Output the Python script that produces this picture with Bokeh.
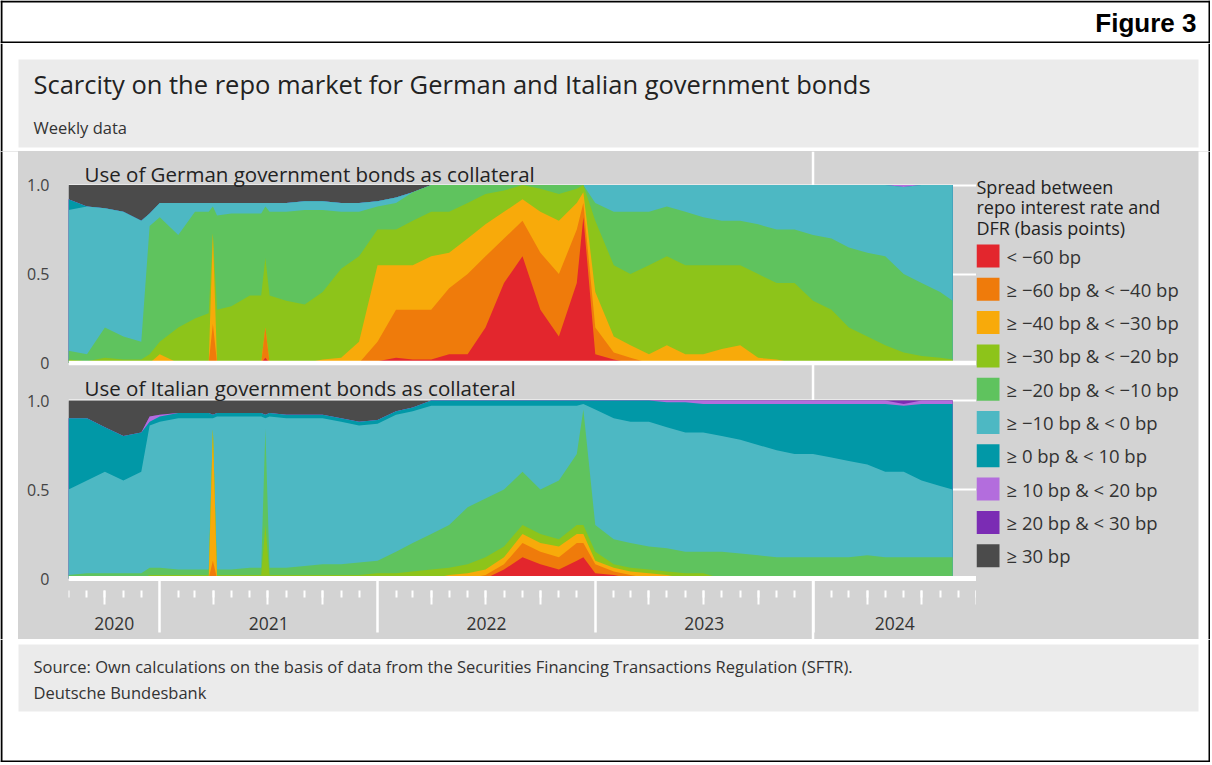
import numpy as np
import pandas as pd
from bokeh.plotting import figure
from bokeh.layouts import column, row
from bokeh.models import Range1d, LinearAxis, FixedTicker, Grid, Span, Label
from bokeh.core.properties import value
from bokeh.embed import file_html
from bokeh.resources import INLINE

# ---------------- data ----------------
dates = ["2020-08-01", "2020-09-01", "2020-10-01", "2020-11-01", "2020-12-01", "2020-12-15",
         "2021-01-01", "2021-02-01", "2021-03-01", "2021-03-24", "2021-03-31", "2021-04-07",
         "2021-05-01", "2021-06-01", "2021-06-20", "2021-06-27", "2021-07-04", "2021-08-01",
         "2021-09-01", "2021-10-01", "2021-11-01", "2021-12-01",
         "2022-01-01", "2022-02-01", "2022-03-01", "2022-04-01", "2022-05-01", "2022-06-01",
         "2022-07-01", "2022-08-01", "2022-09-01", "2022-10-01", "2022-11-01", "2022-12-01", "2022-12-12",
         "2023-01-01", "2023-02-01", "2023-03-01", "2023-04-01", "2023-05-01", "2023-06-01",
         "2023-07-01", "2023-08-01", "2023-09-01", "2023-10-01", "2023-11-01", "2023-12-01",
         "2024-01-01", "2024-02-01", "2024-03-01", "2024-04-01", "2024-05-01", "2024-06-01",
         "2024-07-01", "2024-08-01", "2024-08-22"]

categories = ["< \u221260 bp", "\u2265 \u221260 bp & < \u221240 bp", "\u2265 \u221240 bp & < \u221230 bp",
              "\u2265 \u221230 bp & < \u221220 bp", "\u2265 \u221220 bp & < \u221210 bp",
              "\u2265 \u221210 bp & < 0 bp", "\u2265 0 bp & < 10 bp", "\u2265 10 bp & < 20 bp",
              "\u2265 20 bp & < 30 bp", "\u2265 30 bp"]
colors = ["#e3262d", "#ef7b0b", "#f8aa0a", "#8dc41a", "#5fc35e", "#4db8c3", "#0198a7",
          "#b36ddd", "#7b2cb4", "#4b4b4b"]

# German government bonds (shares per category, per date)
de_red = [0, 0, 0, 0, 0, 0,
          0, 0, 0, 0, 0, 0, 0, 0, 0, .03, 0, 0, 0, 0, 0, 0,
          .01, .03, .02, .02, .05, .05, .20, .45, .60, .30, .15, .45, .82,
          .05, .02, 0, 0, 0, 0, 0, 0, 0, 0, 0, 0,
          0, 0, 0, 0, 0, 0, 0, 0, 0]
de_orange = [0, 0, 0, 0, 0, 0,
             .01, 0, 0, 0, .22, 0, 0, 0, 0, .17, 0, 0, 0, 0, 0, 0,
             .11, .27, .28, .28, .37, .45, .40, .25, .20, .32, .35, .30, .08,
             .15, .04, .03, 0, 0, 0, 0, 0, 0, 0, 0, 0,
             0, 0, 0, 0, 0, 0, 0, 0, 0]
de_yellow = [0, 0, .01, 0, 0, 0,
             .04, 0, 0, 0, .51, 0, 0, 0, 0, 0, 0, 0, 0, .02, .03, .12,
             .43, .25, .25, .30, .20, .20, .18, .15, .12, .23, .30, .15, .06,
             .20, .09, .07, .05, .10, .05, .05, .08, .10, .03, .02, 0,
             0, 0, 0, 0, 0, 0, 0, 0, 0]
de_ygreen = [.02, .01, .02, .02, .02, .05,
             .07, .20, .25, .28, 0, .30, .32, .38, .38, .39, .38, .35, .33, .38, .50, .48,
             .20, .20, .25, .25, .23, .20, .17, .12, .08, .13, .15, .08, .04,
             .40, .40, .40, .50, .50, .50, .50, .47, .45, .47, .43, .45,
             .35, .30, .20, .15, .10, .06, .04, .03, .02]
de_green = [.05, .04, .17, .13, .10, .72,
            .70, .52, .60, .57, .15, .53, .52, .46, .46, .29, .47, .50, .53, .46, .32, .25,
            .13, .15, .16, .15, .15, .10, .05, .03, 0, .02, .05, .02, 0,
            .10, .30, .35, .30, .28, .30, .27, .25, .25, .28, .30, .30,
            .37, .40, .45, .47, .50, .44, .41, .37, .33]
de_cyan = [.79, .83, .67, .70, .68, .07,
           .08, .18, .05, .05, .02, .07, .06, .06, .06, .02, .05, .05, .05, .05, .05, .05,
           .03, .03, 0, 0, 0, 0, 0, 0, 0, 0, 0, 0, 0,
           .10, .15, .15, .15, .12, .15, .18, .20, .20, .22, .25, .25,
           .28, .30, .35, .38, .40, .49, .55, .60, .65]
de_teal = [.06, 0, 0, 0, 0, 0,
           0, 0, 0, 0, 0, 0, 0, 0, 0, 0, 0, 0, 0, 0, 0, 0,
           0, 0, 0, 0, 0, 0, 0, 0, 0, 0, 0, 0, 0,
           0, 0, 0, 0, 0, 0, 0, 0, 0, 0, 0, 0,
           0, 0, 0, 0, 0, 0, 0, 0, 0]
de_lpurple = [0, 0, 0, 0, 0, 0,
              0, 0, 0, 0, 0, 0, 0, 0, 0, 0, 0, 0, 0, 0, 0, 0,
              0, 0, 0, 0, 0, 0, 0, 0, 0, 0, 0, 0, 0,
              0, 0, 0, 0, 0, 0, 0, 0, 0, 0, 0, 0,
              0, 0, 0, 0, 0, .01, 0, 0, 0]
de_purple = [0, 0, 0, 0, 0, 0,
             0, 0, 0, 0, 0, 0, 0, 0, 0, 0, 0, 0, 0, 0, 0, 0,
             0, 0, 0, 0, 0, 0, 0, 0, 0, 0, 0, 0, 0,
             0, 0, 0, 0, 0, 0, 0, 0, 0, 0, 0, 0,
             0, 0, 0, 0, 0, 0, 0, 0, 0]
de_dgray = [.08, .12, .13, .15, .20, .16,
            .10, .10, .10, .10, .10, .10, .10, .10, .10, .10, .10, .10, .09, .09, .10, .10,
            .09, .07, .04, 0, 0, 0, 0, 0, 0, 0, 0, 0, 0,
            0, 0, 0, 0, 0, 0, 0, 0, 0, 0, 0, 0,
            0, 0, 0, 0, 0, 0, 0, 0, 0]

# Italian government bonds
it_red = [0, 0, 0, 0, 0, 0,
          0, 0, 0, 0, 0, 0, 0, 0, 0, 0, 0, 0, 0, 0, 0, 0,
          0, 0, 0, 0, 0, 0, 0, .05, .12, .08, .05, .10, .12,
          .03, .02, 0, 0, 0, 0, 0, 0, 0, 0, 0, 0,
          0, 0, 0, 0, 0, 0, 0, 0, 0]
it_orange = [0, 0, 0, 0, 0, 0,
             0, 0, 0, 0, .10, 0, 0, 0, 0, 0, 0, 0, 0, 0, 0, 0,
             0, 0, 0, 0, 0, 0, .02, .03, .08, .07, .07, .10, .08,
             .05, .02, .02, 0, 0, 0, 0, 0, 0, 0, 0, 0,
             0, 0, 0, 0, 0, 0, 0, 0, 0]
it_yellow = [0, 0, 0, 0, 0, 0,
             0, 0, 0, 0, .74, 0, 0, 0, 0, 0, 0, 0, 0, 0, 0, 0,
             0, 0, 0, 0, .02, .03, .03, .04, .05, .05, .06, .05, .05,
             .02, .02, .02, .03, .02, 0, 0, 0, 0, 0, 0, 0,
             0, 0, 0, 0, 0, 0, 0, 0, 0]
it_ygreen = [0, 0, 0, 0, 0, .02,
             .02, .02, .02, .02, 0, .02, .02, .02, .02, .30, .02, .02, .02, .02, .02, .02,
             .03, .03, .04, .05, .04, .05, .07, .06, .05, .05, .04, .05, .05,
             .05, .02, .02, .02, .02, .03, .03, 0, 0, 0, 0, 0,
             0, 0, 0, 0, 0, 0, 0, 0, 0]
it_green = [.02, .03, .03, .03, .03, .04,
            .04, .03, .03, .03, 0, .03, .03, .04, .04, .54, .04, .04, .05, .06, .06, .07,
            .07, .12, .16, .20, .24, .32, .33, .32, .30, .25, .33, .40, .65,
            .15, .14, .14, .13, .13, .12, .12, .15, .14, .13, .12, .12,
            .12, .12, .12, .13, .12, .12, .12, .12, .12]
it_cyan = [.48, .52, .57, .52, .57, .80,
           .82, .85, .85, .85, .06, .86, .86, .85, .85, .06, .85, .84, .83, .82, .80, .77,
           .77, .77, .74, .72, .67, .57, .52, .47, .37, .47, .42, .27, .03,
           .65, .68, .68, .70, .68, .67, .67, .65, .64, .62, .60, .58,
           .58, .56, .54, .51, .48, .48, .43, .40, .38]
it_teal = [.40, .35, .25, .25, .22, .02,
           .03, .03, .03, .03, .02, .02, .02, .02, .02, .02, .02, .02, .02, .02, .02, .02,
           .02, .02, .02, .03, .03, .03, .03, .03, .03, .03, .03, .03, .02,
           .05, .10, .12, .12, .14, .17, .16, .18, .20, .23, .26, .28,
           .28, .30, .32, .34, .38, .37, .43, .46, .48]
it_lpurple = [0, 0, 0, 0, 0, .03,
              .01, 0, 0, 0, 0, 0, 0, 0, 0, 0, 0, 0, 0, 0, 0, 0,
              0, 0, 0, 0, 0, 0, 0, 0, 0, 0, 0, 0, 0,
              0, 0, 0, 0, .01, .01, .02, .02, .02, .02, .02, .02,
              .02, .02, .02, .02, .02, .01, .02, .02, .02]
it_purple = [0, 0, 0, 0, 0, 0,
             0, 0, 0, 0, 0, 0, 0, 0, 0, 0, 0, 0, 0, 0, 0, 0,
             0, 0, 0, 0, 0, 0, 0, 0, 0, 0, 0, 0, 0,
             0, 0, 0, 0, 0, 0, 0, 0, 0, 0, 0, 0,
             0, 0, 0, 0, 0, .02, 0, 0, 0]
it_dgray = [.10, .10, .15, .20, .18, .09,
            .08, .07, .07, .07, .08, .07, .07, .07, .07, .08, .07, .08, .08, .08, .10, .12,
            .11, .06, .04, 0, 0, 0, 0, 0, 0, 0, 0, 0, 0,
            0, 0, 0, 0, 0, 0, 0, 0, 0, 0, 0, 0,
            0, 0, 0, 0, 0, 0, 0, 0, 0]

german = [de_red, de_orange, de_yellow, de_ygreen, de_green, de_cyan, de_teal, de_lpurple, de_purple, de_dgray]
italian = [it_red, it_orange, it_yellow, it_ygreen, it_green, it_cyan, it_teal, it_lpurple, it_purple, it_dgray]

year_labels = ["2020", "2021", "2022", "2023", "2024"]
axis_start, axis_end = "2020-08-01", "2024-10-01"

title = "Scarcity on the repo market for German and Italian government bonds"
subtitle = "Weekly data"
panel_titles = ["Use of German government bonds as collateral", "Use of Italian government bonds as collateral"]
legend_title = ["Spread between", "repo interest rate and", "DFR (basis points)"]
source_lines = ["Source: Own calculations on the basis of data from the Securities Financing Transactions Regulation (SFTR).",
                "Deutsche Bundesbank"]

# ---------------- styling / layout ----------------
FONT = "Open Sans"
W = 1210
BOX_L, BOX_R = 18, 1198
PLOT_BG = "#d3d3d3"
BOX_BG = "#ebebeb"


def ms(s):
    return pd.Timestamp(s).value / 1e6


def blank(width, height, bg="white"):
    f = figure(width=width, height=height, x_range=Range1d(0, width), y_range=Range1d(height, 0),
               x_axis_type=None, y_axis_type=None, toolbar_location=None, output_backend="svg",
               min_border=0, outline_line_color=None, background_fill_color=bg, border_fill_color=bg)
    return f


def side_lines(f, height):
    f.segment(x0=[1, W - 1], y0=[0, 0], x1=[1, W - 1], y1=[height, height], line_color="black", line_width=2)


# header
HH = 43
header = blank(W, HH)
side_lines(header, HH)
header.segment(x0=[0, 0], y0=[1, 42], x1=[W, W], y1=[1, 42], line_color="black", line_width=2)
header.text(x=[W - 14], y=[22], text=["Figure 3"], text_font=value("Liberation Sans"), text_font_style="bold",
            text_font_size="26px", text_align="right", text_baseline="middle", text_color="black")

# title box
TH = 108
tfig = blank(W, TH)
side_lines(tfig, TH)
tfig.quad(left=[BOX_L], right=[BOX_R], top=[16], bottom=[104], fill_color=BOX_BG, line_color=None)
tfig.text(x=[BOX_L + 15], y=[40], text=[title], text_font=value(FONT), text_font_size="25.5px",
          text_baseline="middle", text_color="#222222")
tfig.text(x=[BOX_L + 15], y=[84], text=[subtitle], text_font=value(FONT), text_font_size="16.5px",
          text_baseline="middle", text_color="#333333")

# footer
FH = 123
ffig = blank(W, FH)
side_lines(ffig, FH)
ffig.segment(x0=[0], y0=[FH - 1], x1=[W], y1=[FH - 1], line_color="black", line_width=2)
ffig.quad(left=[BOX_L], right=[BOX_R], top=[5], bottom=[72], fill_color=BOX_BG, line_color=None)
ffig.text(x=[BOX_L + 15, BOX_L + 15], y=[27, 53], text=source_lines, text_font=value(FONT),
          text_font_size="16.5px", text_baseline="middle", text_color="#333333")

# main chart
H = 488
U = 178.0          # pixels per unit share
ZERO_PX = 61       # bottom panel zero above frame bottom
OFF = 1.21         # vertical offset of the upper panel
y0 = -ZERO_PX / U
y1 = y0 + H / U
MAIN_W = 958

xs = np.array([ms(d) for d in dates])
p = figure(width=MAIN_W, height=H, x_range=Range1d(ms(axis_start), ms(axis_end)), y_range=Range1d(y0, y1),
           x_axis_type=None, y_axis_type=None, toolbar_location=None, output_backend="svg",
           min_border_left=50, min_border_right=0, min_border_top=0, min_border_bottom=0,
           background_fill_color=PLOT_BG, border_fill_color=PLOT_BG, outline_line_color=None)
p.extra_y_ranges = {"top": Range1d(y0 - OFF, y1 - OFF)}

p.add_layout(Grid(dimension=1, ticker=FixedTicker(ticks=[0.5, 1.0, 1.71, 2.21]),
                  grid_line_color="white", grid_line_width=2))
p.add_layout(Span(location=ms("2024-01-01"), dimension="height", line_color="white", line_width=2.5,
                  level="underlay"))


def draw_stack(shares, yname):
    arr = np.array(shares, dtype=float)
    cum = np.cumsum(arr, axis=0)
    zeros = np.zeros(len(xs))
    for i in range(len(categories) - 1, -1, -1):
        kw = {"y_range_name": yname} if yname else {}
        p.varea(x=xs, y1=zeros, y2=cum[i], fill_color=colors[i], **kw)


draw_stack(german, "top")
draw_stack(italian, None)

p.add_layout(Span(location=OFF, dimension="width", line_color="white", line_width=4.5))

# y axis (both panels)
yticks = [0, 0.5, 1, 1.21, 1.71, 2.21]
ylabels = {0: "0", 0.5: "0.5", 1: "1.0", 1.21: "0", 1.71: "0.5", 2.21: "1.0"}
yax = LinearAxis(ticker=FixedTicker(ticks=yticks), major_label_overrides=ylabels,
                 axis_line_color=None, major_tick_line_color=None, minor_tick_line_color=None,
                 major_label_standoff=13, major_label_text_font=FONT, major_label_text_font_size="16px",
                 major_label_text_color="#444444")
p.add_layout(yax, "left")

months = pd.date_range(axis_start, axis_end, freq="MS")
year_bounds = [ms(d) for d in months if d.month == 1]
quarters = [ms(d) for d in months if d.month in (4, 7, 10)]
minor = [ms(d) for d in months if d.month != 1]

ax_year = LinearAxis(ticker=FixedTicker(ticks=year_bounds, minor_ticks=minor), fixed_location=0,
                     axis_line_color="white", axis_line_width=5,
                     major_tick_line_color="white", major_tick_line_width=2.5, major_tick_in=0, major_tick_out=54,
                     minor_tick_line_color="white", minor_tick_line_width=2, minor_tick_in=-12, minor_tick_out=19,
                     major_label_overrides={t: "" for t in year_bounds})
ax_q = LinearAxis(ticker=FixedTicker(ticks=quarters), fixed_location=0, axis_line_color=None,
                  major_tick_line_color="white", major_tick_line_width=2, major_tick_in=-12, major_tick_out=26,
                  minor_tick_line_color=None, major_label_overrides={t: "" for t in quarters})
edges = [ms(axis_start)] + year_bounds + [ms(axis_end)]
label_pos = [(edges[i] + edges[i + 1]) / 2 for i in range(len(year_labels))]
ax_lab = LinearAxis(ticker=FixedTicker(ticks=label_pos), fixed_location=0, axis_line_color=None,
                    major_tick_line_color=None, minor_tick_line_color=None, major_tick_out=0, major_tick_in=0,
                    major_label_overrides=dict(zip(label_pos, year_labels)), major_label_standoff=38,
                    major_label_text_font=FONT, major_label_text_font_size="17.5px",
                    major_label_text_color="#333333")
for a in (ax_year, ax_q, ax_lab):
    p.add_layout(a, "below")

p.add_layout(Label(x=16, y=H - 22, x_units="screen", y_units="screen", text=panel_titles[0],
                   text_font=FONT, text_font_size="20.5px", text_color="#222222", text_baseline="middle"))
p.add_layout(Label(x=16, y=H - 236, x_units="screen", y_units="screen", text=panel_titles[1],
                   text_font=FONT, text_font_size="20.5px", text_color="#222222", text_baseline="middle"))

# legend panel (drawn manually)
LW = BOX_R - BOX_L - MAIN_W
lf = blank(LW, H, bg=PLOT_BG)
lf.text(x=[0, 0, 0], y=[35, 55.5, 76], text=legend_title, text_font=value(FONT), text_font_size="18px",
        text_baseline="middle", text_color="#222222")
ly = [104.5 + i * 33.3 for i in range(len(categories))]
lf.rect(x=[11.5] * len(categories), y=ly, width=23, height=23, fill_color=colors, line_color=None)
lf.text(x=[30] * len(categories), y=ly, text=categories, text_font=value(FONT), text_font_size="18.5px",
        text_baseline="middle", text_color="#333333")

lstrip = blank(BOX_L, H)
lstrip.segment(x0=[1], y0=[0], x1=[1], y1=[H], line_color="black", line_width=2)
RW = W - BOX_R
rstrip = blank(RW, H)
rstrip.segment(x0=[RW - 1], y0=[0], x1=[RW - 1], y1=[H], line_color="black", line_width=2)

main_row = row(lstrip, p, lf, rstrip, styles={"background-color": PLOT_BG})
page = column(header, tfig, main_row, ffig)
open("out.html", "w").write(file_html(page, INLINE))
